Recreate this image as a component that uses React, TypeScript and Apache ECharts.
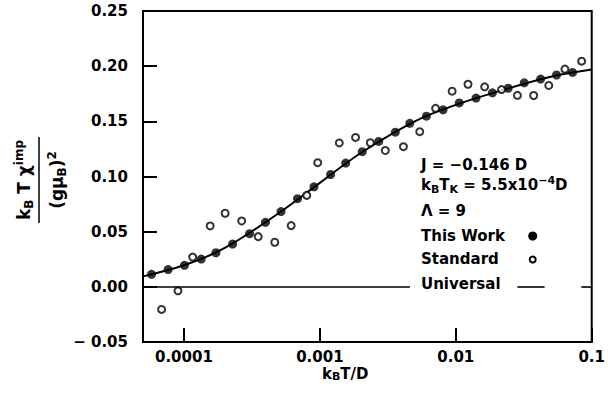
import React, { useEffect, useRef } from "react";
import * as echarts from "echarts";

// "This Work" (filled circles)
const workX = [5.78e-5, 7.65e-5, 1.01e-4, 1.34e-4, 1.72e-4, 2.28e-4, 3.04e-4, 3.98e-4, 5.18e-4, 6.85e-4, 9.05e-4, 1.2e-3, 1.55e-3, 2.05e-3, 2.71e-3, 3.59e-3, 4.59e-3, 6.08e-3, 8.06e-3, 1.06e-2, 1.41e-2, 1.86e-2, 2.43e-2, 3.19e-2, 4.21e-2, 5.51e-2, 7.23e-2];
const workY = [0.0113, 0.0156, 0.0195, 0.0252, 0.0309, 0.0388, 0.0482, 0.0585, 0.0682, 0.0799, 0.0906, 0.1018, 0.1122, 0.1225, 0.1318, 0.1402, 0.1482, 0.1547, 0.1604, 0.1667, 0.1711, 0.1758, 0.18, 0.1849, 0.1883, 0.192, 0.1943];

// "Standard" (open circles)
const stdX = [6.85e-5, 9.04e-5, 1.16e-4, 1.56e-4, 2.01e-4, 2.66e-4, 3.52e-4, 4.66e-4, 6.15e-4, 8.01e-4, 9.64e-4, 1.39e-3, 1.83e-3, 2.35e-3, 3.03e-3, 4.12e-3, 5.43e-3, 7.1e-3, 9.4e-3, 1.23e-2, 1.63e-2, 2.17e-2, 2.84e-2, 3.74e-2, 4.83e-2, 6.35e-2, 8.43e-2];
const stdY = [-0.0205, -0.0036, 0.027, 0.0552, 0.0667, 0.0597, 0.0455, 0.0404, 0.0555, 0.0829, 0.1125, 0.1304, 0.1354, 0.1306, 0.1236, 0.127, 0.1406, 0.1618, 0.1773, 0.1836, 0.1813, 0.1788, 0.1736, 0.1734, 0.1825, 0.1973, 0.2045];

// "Universal" curve
const uniX = [5e-5, 1e-4, 2e-4, 5e-4, 1e-3, 2e-3, 5e-3, 1e-2, 2e-2, 5e-2, 0.1];
const uniY = [0.0095, 0.0195, 0.0352, 0.0669, 0.0942, 0.1213, 0.15, 0.1649, 0.1767, 0.1904, 0.197];

// zero-line segments (broken around the "Universal" legend label)
const zeroSegments = [[5e-5, 0.0046], [0.0284, 0.045], [0.0838, 0.1]];

const yTicks = { min: -0.05, max: 0.25, interval: 0.05 };
const xRange = { min: 5e-5, max: 0.1 };

const FONT = "DejaVu Sans";

export default function App() {
  const ref = useRef<HTMLDivElement>(null);
  useEffect(() => {
    if (!ref.current) return;
    const chart = echarts.init(ref.current, null, { renderer: "svg" });
    const base = { fontFamily: FONT, fontWeight: "bold", fontSize: 15, color: "#000" };
    const txt = (left: number, top: number, text: string) => ({
      type: "text",
      left,
      top,
      style: { text, ...base, fill: "#000" },
    });
    const richSub = {
      n: { ...base, lineHeight: 20, verticalAlign: "middle" },
      sub: { ...base, fontSize: 11, lineHeight: 8, verticalAlign: "bottom" },
      sup: { ...base, fontSize: 11, lineHeight: 8, verticalAlign: "top" },
    };
    const richName = {
      n: { ...base, lineHeight: 16, verticalAlign: "middle" },
      sub: { ...base, fontSize: 11, lineHeight: 6, verticalAlign: "bottom" },
    };
    const big = { ...base, fontSize: 17 };
    const richY = {
      n: { ...big, lineHeight: 22, verticalAlign: "middle" },
      sub: { ...big, fontSize: 12, lineHeight: 8, verticalAlign: "bottom" },
      sup: { ...big, fontSize: 12, lineHeight: 8, verticalAlign: "top" },
    };
    chart.setOption({
      animation: false,
      backgroundColor: "#fff",
      grid: { left: 143, right: 10, top: 11, bottom: 60, show: true, borderColor: "#000", borderWidth: 2, backgroundColor: "transparent" },
      xAxis: {
        type: "log",
        logBase: 10,
        min: xRange.min,
        max: xRange.max,
        axisLine: { show: true, onZero: false, lineStyle: { color: "#000", width: 2 } },
        axisTick: { show: true, inside: true, length: 14, lineStyle: { color: "#000", width: 2 } },
        minorTick: { show: false },
        splitLine: { show: false },
        axisLabel: {
          showMinLabel: false,
          alignMaxLabel: "right",
          margin: 8,
          lineHeight: 14,
          fontFamily: FONT,
          fontWeight: "bold",
          fontSize: 15,
          color: "#000",
          formatter: (v: number) => {
            const e = Math.round(Math.log10(v));
            return v.toFixed(Math.max(0, -e));
          },
        },
      },
      yAxis: {
        type: "value",
        min: yTicks.min,
        max: yTicks.max,
        interval: yTicks.interval,
        axisLine: { show: true, lineStyle: { color: "#000", width: 2 } },
        axisTick: { show: true, inside: true, length: 14, lineStyle: { color: "#000", width: 2 } },
        splitLine: { show: false },
        axisLabel: {
          margin: 15,
          fontFamily: FONT,
          fontWeight: "bold",
          fontSize: 15,
          color: "#000",
          formatter: (v: number) => (v < 0 ? "\u2212 " + Math.abs(v).toFixed(2) : v.toFixed(2)),
        },
      },
      series: [
        {
          name: "Universal",
          type: "line",
          data: uniX.map((x, i) => [x, uniY[i]]),
          smooth: 0.35,
          showSymbol: false,
          symbol: "none",
          lineStyle: { color: "#000", width: 2 },
          z: 2,
          markLine: {
            silent: true,
            symbol: "none",
            label: { show: false },
            lineStyle: { color: "#000", width: 1.6, type: "solid" },
            data: zeroSegments.map((s) => [{ coord: [s[0], 0] }, { coord: [s[1], 0] }]),
          },
        },
        {
          name: "This Work",
          type: "scatter",
          data: workX.map((x, i) => [x, workY[i]]),
          symbol: "circle",
          symbolSize: 9,
          itemStyle: { color: "#000" },
          z: 3,
        },
        {
          name: "Standard",
          type: "scatter",
          data: stdX.map((x, i) => [x, stdY[i]]),
          symbol: "circle",
          symbolSize: 7,
          itemStyle: { color: "#fff", borderColor: "#000", borderWidth: 2 },
          z: 4,
        },
      ],
      graphic: [
        txt(421, 157, "J = \u22120.146 D"),
        {
          type: "text",
          left: 421,
          top: 175,
          style: { text: "{n|k}{sub|B}{n|T}{sub|K}{n| = 5.5x10}{sup|\u22124}{n|D}", ...base, fill: "#000", rich: richSub },
        },
        txt(421, 203, "\u039B = 9"),
        txt(421, 228, "This Work"),
        { type: "circle", shape: { cx: 532.7, cy: 236, r: 4.5 }, style: { fill: "#000" } },
        txt(421, 251, "Standard"),
        { type: "circle", shape: { cx: 532.7, cy: 259.5, r: 3 }, style: { fill: "#fff", stroke: "#000", lineWidth: 2 } },
        txt(421, 276, "Universal"),
        // x axis name
        {
          type: "text",
          left: 322,
          top: 366,
          style: { text: "{n|k}{sub|B}{n|T/D}", ...base, fill: "#000", rich: richName },
        },
        // y axis name (rotated fraction)
        {
          type: "group",
          x: 39,
          y: 180,
          rotation: Math.PI / 2,
          children: [
            {
              type: "text",
              x: 0,
              y: -15,
              style: {
                text: "{n|k}{sub|B}{n| T }{n|\u03C7}{sup|imp}",
                ...big,
                fill: "#000",
                align: "center",
                verticalAlign: "middle",
                rich: richY,
              },
            },
            { type: "line", shape: { x1: -43, y1: 0, x2: 43, y2: 0 }, style: { stroke: "#000", lineWidth: 1.5 } },
            {
              type: "text",
              x: 0,
              y: 18,
              style: {
                text: "{n|(g\u03BC}{sub|B}{n|)}{sup|2}",
                ...big,
                fill: "#000",
                align: "center",
                verticalAlign: "middle",
                rich: richY,
              },
            },
          ],
        },
      ],
    });
    return () => chart.dispose();
  }, []);
  return <div ref={ref} style={{ position: "absolute", left: 0, top: 0, width: 608, height: 402 }} />;
}
